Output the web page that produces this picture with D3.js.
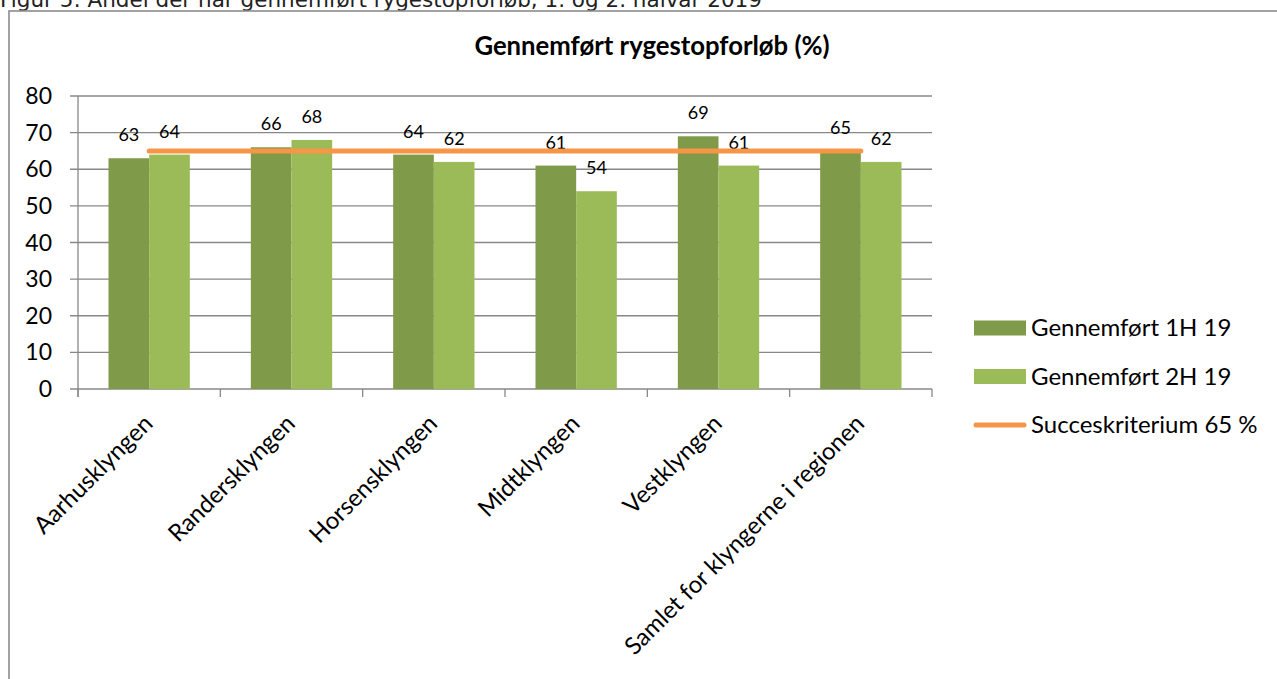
<!DOCTYPE html>
<html>
<head>
<meta charset="utf-8">
<script src="https://cdn.jsdelivr.net/npm/d3@7"></script>
<style>
  html, body { margin: 0; padding: 0; background: #fff; }
  svg { display: block; }
  text { font-family: Lato, "Open Sans", sans-serif; fill: #000; }
</style>
</head>
<body>
<svg id="chart" width="1277" height="679"></svg>
<script>
const categories = ["Aarhusklyngen", "Randersklyngen", "Horsensklyngen", "Midtklyngen", "Vestklyngen", "Samlet for klyngerne i regionen"];
const seriesNames = ["Gennemført 1H 19", "Gennemført 2H 19"];
const values1H = [63, 66, 64, 61, 69, 65];
const values2H = [64, 68, 62, 54, 61, 62];
const criterionName = "Succeskriterium 65 %";
const criterion = [65, 65, 65, 65, 65, 65];
const yTicks = [0, 10, 20, 30, 40, 50, 60, 70, 80];
const title = "Gennemført rygestopforløb (%)";
const caption = "Figur 5: Andel der har gennemført rygestopforløb, 1. og 2. halvår 2019";

const colors = { "Gennemført 1H 19": "#7f9a48", "Gennemført 2H 19": "#9bbb59" };
const lineColor = "#f79646";
const gridColor = "#888888";

const svg = d3.select("#chart");

// caption (cut off at top)
svg.append("text").attr("x", 0).attr("y", 7)
  .style("font-family", "'DejaVu Sans', sans-serif")
  .style("font-size", "21.5px").style("fill", "#222").text(caption);

// frame
svg.append("rect").attr("x", 9).attr("y", 11).attr("width", 1300).attr("height", 700)
  .attr("fill", "none").attr("stroke", "#8c8c8c").attr("stroke-width", 1.6);

const plot = { left: 78, right: 932, top: 96, bottom: 389 };

const x = d3.scaleBand().domain(categories).range([plot.left, plot.right]).paddingInner(0).paddingOuter(0);
const xs = d3.scaleBand().domain(seriesNames).range([0, x.bandwidth()]).paddingInner(0).paddingOuter(0.75);
const y = d3.scaleLinear().domain([0, 80]).range([plot.bottom, plot.top]);

// gridlines
svg.append("g").selectAll("line").data(yTicks).join("line")
  .attr("x1", plot.left - 8).attr("x2", plot.right)
  .attr("y1", d => y(d)).attr("y2", d => y(d))
  .attr("stroke", gridColor).attr("stroke-width", 1.3);

// y axis line
svg.append("line").attr("x1", plot.left).attr("x2", plot.left)
  .attr("y1", y(80)).attr("y2", y(0) + 8)
  .attr("stroke", gridColor).attr("stroke-width", 1.3);

// y tick labels
svg.append("g").selectAll("text").data(yTicks).join("text")
  .attr("x", 52).attr("y", d => y(d)).attr("dy", "0.35em")
  .attr("text-anchor", "end").style("font-size", "23px").text(d => d);

// x ticks at band boundaries
const boundaries = categories.map(c => x(c)).concat([x(categories[categories.length - 1]) + x.bandwidth()]);
svg.append("g").selectAll("line").data(boundaries).join("line")
  .attr("x1", d => d).attr("x2", d => d)
  .attr("y1", y(0)).attr("y2", y(0) + 8)
  .attr("stroke", gridColor).attr("stroke-width", 1.3);

// bars
const rows = categories.map((c, i) => ({ cat: c, vals: [
  { s: seriesNames[0], v: values1H[i] },
  { s: seriesNames[1], v: values2H[i] } ] }));

const groups = svg.append("g").selectAll("g").data(rows).join("g")
  .attr("transform", d => `translate(${x(d.cat)},0)`);

groups.selectAll("rect").data(d => d.vals).join("rect")
  .attr("x", d => xs(d.s)).attr("width", xs.bandwidth())
  .attr("y", d => y(d.v)).attr("height", d => y(0) - y(d.v))
  .attr("fill", d => colors[d.s]);

// criterion line
const line = d3.line().x((d, i) => x(categories[i]) + x.bandwidth() / 2).y(d => y(d));
svg.append("path").datum(criterion).attr("d", line)
  .attr("fill", "none").attr("stroke", lineColor).attr("stroke-width", 5).attr("stroke-linecap", "round");

// data labels
groups.selectAll("text").data(d => d.vals).join("text")
  .attr("x", d => xs(d.s) + xs.bandwidth() / 2).attr("y", d => y(d.v) - 17)
  .attr("text-anchor", "middle").style("font-size", "18px").text(d => d.v);

// category labels
svg.append("g").selectAll("text").data(categories).join("text")
  .attr("transform", d => `translate(${x(d) + x.bandwidth() / 2 + 5},${y(0) + 36}) rotate(-45)`)
  .attr("text-anchor", "end").style("font-size", "24px").text(d => d);

// title
svg.append("text").attr("x", 652).attr("y", 55).attr("text-anchor", "middle")
  .style("font-size", "25.7px").style("font-weight", "bold").text(title);

// legend
const legendItems = [
  { name: seriesNames[0], type: "rect", color: colors[seriesNames[0]] },
  { name: seriesNames[1], type: "rect", color: colors[seriesNames[1]] },
  { name: criterionName, type: "line", color: lineColor }
];
const lg = svg.append("g").selectAll("g").data(legendItems).join("g")
  .attr("transform", (d, i) => `translate(974,${328 + i * 48.5})`);
lg.filter(d => d.type === "rect").append("rect")
  .attr("x", 0).attr("y", -7.5).attr("width", 52).attr("height", 15).attr("fill", d => d.color);
lg.filter(d => d.type === "line").append("line")
  .attr("x1", 2).attr("x2", 50).attr("y1", 0).attr("y2", 0)
  .attr("stroke", d => d.color).attr("stroke-width", 5).attr("stroke-linecap", "round");
lg.append("text").attr("x", 57).attr("y", 0).attr("dy", "0.35em")
  .style("font-size", "24px").text(d => d.name);
</script>
</body>
</html>
